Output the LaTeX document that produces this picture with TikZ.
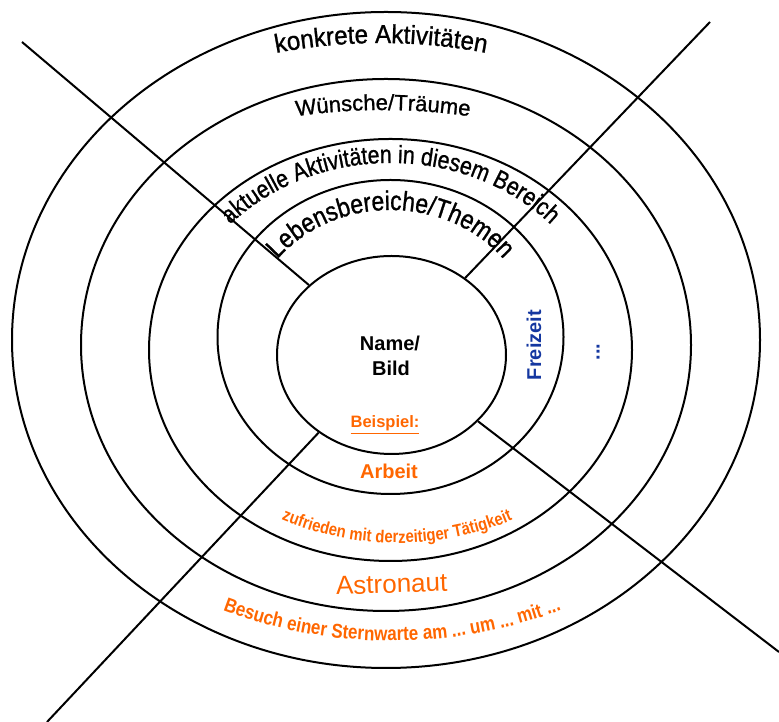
\documentclass[tikz,border=0pt]{standalone}
\usepackage{fontspec}
\setmainfont{Liberation Sans}
\newfontfamily\wafont[FakeStretch=0.93,FakeBold=1]{Liberation Sans}
\newfontfamily\wbfont[FakeStretch=0.85,FakeBold=1]{Liberation Sans}
\newfontfamily\wcfont[FakeBold=1]{Liberation Sans}
\newfontfamily\wdfont[FakeStretch=0.85]{Liberation Sans}
\usetikzlibrary{shapes.geometric,decorations.text}
\definecolor{orng}{RGB}{255,102,0}
\definecolor{navy}{RGB}{20,55,160}
\begin{document}
\begin{tikzpicture}[x=1pt,y=1pt,
  ring/.style={draw, ellipse, line width=2pt, inner sep=0pt},
  conn/.style={draw, line width=2pt},
  curvetext/.style={decorate, decoration={text along path, text align=center}}]
\useasboundingbox (0,0) rectangle (779,722);
% rings
\node[ring, minimum width=748pt, minimum height=656pt] (e1) at (386,382) {};
\node[ring, minimum width=610pt, minimum height=532pt] (e2) at (386,377) {};
\node[ring, minimum width=483pt, minimum height=422pt] (e3) at (390.5,372) {};
\node[ring, minimum width=346pt, minimum height=314pt] (e4) at (390.5,385) {};
\node[ring, minimum width=229pt, minimum height=198pt] (e5) at (391.5,367) {};
% connectors
\coordinate (a1) at (22,680);
\coordinate (a2) at (779,70);
\coordinate (b1) at (710,700);
\coordinate (b2) at (47,0);
\draw[conn] (a1) -- (e5);
\draw[conn] (a2) -- (e5);
\draw[conn] (b1) -- (e5);
\draw[conn] (b2) -- (e5);
% curved texts
\path[curvetext, decoration={text={|\wafont\fontsize{26}{30}\selectfont|konkrete Aktivitäten}}]
  (189.5,645.2) arc[start angle=110, end angle=70, radius=560pt];
\path[curvetext, decoration={text={|\wcfont\fontsize{22}{26}\selectfont|Wünsche/Träume}}]
  (177.8,575.8) arc[start angle=110, end angle=70, radius=600pt];
\path[curvetext, decoration={text={|\wbfont\fontsize{25}{29}\selectfont|aktuelle Aktivitäten in diesem Bereich}}]
  (177.8,404.5) arc[start angle=170, end angle=10, x radius=216pt, y radius=187pt];
\path[curvetext, decoration={text={|\wbfont\fontsize{27}{31}\selectfont|Lebensbereiche/Themen}}]
  (249.7,407.05) arc[start angle=170, end angle=10, x radius=143pt, y radius=127pt];
\path[curvetext, decoration={text={|\color{orng}\wdfont\bfseries\fontsize{17.5}{20}\selectfont|zufrieden mit derzeitiger Tätigkeit}}]
  (247,219.2) arc[start angle=240, end angle=300, radius=300pt];
\path[curvetext, decoration={text={|\color{orng}\wdfont\bfseries\fontsize{20}{23}\selectfont|Besuch einer Sternwarte am ... um ... mit ...}}]
  (189.1,126) arc[start angle=245, end angle=295, radius=480pt];
% straight texts
\node[anchor=base, inner sep=0pt, font=\bfseries\fontsize{20}{24}\selectfont] (name) at (390,371) {Name/};
\node[anchor=base, inner sep=0pt, font=\bfseries\fontsize{20}{24}\selectfont] (bild) at (391,346) {Bild};
\node[anchor=base, inner sep=0pt, text=orng, font=\bfseries\fontsize{16.5}{20}\selectfont] (beisp) at (385,294) {\underline{Beispiel:}};
\node[anchor=base, inner sep=0pt, text=orng, font=\bfseries\fontsize{20}{24}\selectfont] (arbeit) at (389,243) {Arbeit};
\node[anchor=base, inner sep=0pt, text=orng, rotate=2, font=\fontsize{26}{30}\selectfont] (astro) at (392,129) {Astronaut};
\node[anchor=center, inner sep=0pt, text=navy, rotate=90, font=\bfseries\fontsize{20}{24}\selectfont] (frei) at (534,377) {Freizeit};
\node[anchor=base, inner sep=0pt, text=navy, rotate=90, font=\bfseries\fontsize{20}{24}\selectfont] (dots) at (599.5,370) {...};
\end{tikzpicture}
\end{document}
